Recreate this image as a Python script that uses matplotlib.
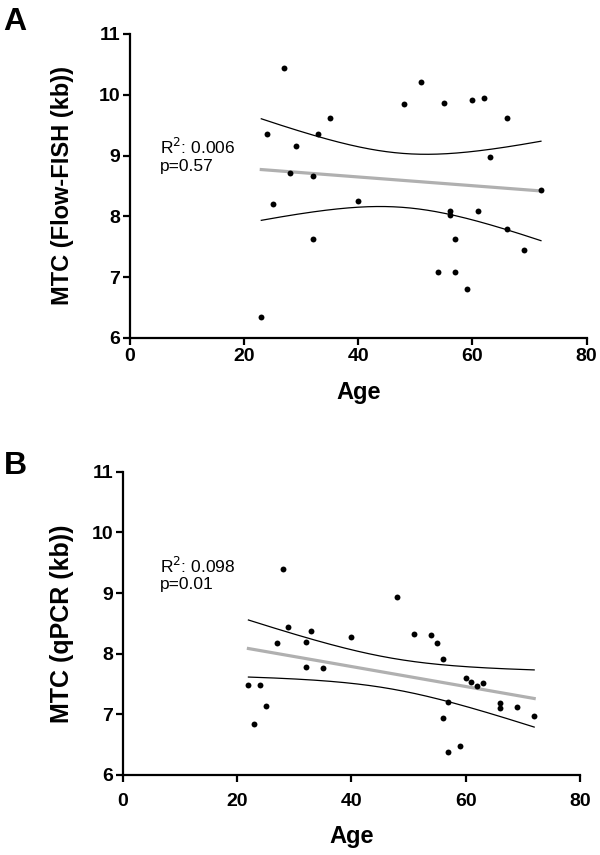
import numpy as np
import matplotlib.pyplot as plt

plt.rcParams['font.family'] = ['Liberation Sans', 'DejaVu Sans']

# Panel A: Flow-FISH
age_a = [23, 24, 25, 27, 28, 29, 32, 32, 33, 35, 40, 48, 51, 54, 55,
         56, 56, 57, 57, 59, 60, 61, 62, 63, 66, 66, 69, 72]
mtc_a = [6.34, 9.36, 8.21, 10.44, 8.71, 9.16, 8.67, 7.62, 9.36, 9.61, 8.25, 9.85, 10.21, 7.09, 9.86,
         8.09, 8.02, 7.62, 7.09, 6.80, 9.91, 8.09, 9.94, 8.97, 9.61, 7.80, 7.45, 8.43]

# Panel B: qPCR
age_b = [22, 23, 24, 25, 27, 28, 29, 32, 32, 33, 35, 40, 48, 51, 54,
         55, 56, 56, 57, 57, 59, 60, 61, 62, 63, 66, 66, 69, 72]
mtc_b = [7.49, 6.84, 7.49, 7.14, 8.18, 9.39, 8.44, 8.19, 7.78, 8.38, 7.77, 8.27, 8.94, 8.32, 8.30,
         8.18, 7.92, 6.94, 7.21, 6.38, 6.47, 7.60, 7.54, 7.47, 7.51, 7.19, 7.10, 7.12, 6.98]

stats_a = "R$^2$: 0.006\np=0.57"
stats_b = "R$^2$: 0.098\np=0.01"

# t quantiles (95%, two sided) for df = n-2
t_crit = {26: 2.056, 27: 2.052}


def fit_ci(x, y):
    x = np.asarray(x, float)
    y = np.asarray(y, float)
    n = len(x)
    b, a = np.polyfit(x, y, 1)
    res = y - (a + b * x)
    s = np.sqrt(np.sum(res ** 2) / (n - 2))
    xs = np.linspace(x.min(), x.max(), 200)
    sxx = np.sum((x - x.mean()) ** 2)
    se = s * np.sqrt(1.0 / n + (xs - x.mean()) ** 2 / sxx)
    yh = a + b * xs
    t = t_crit[n - 2]
    return xs, yh, yh - t * se, yh + t * se


fig = plt.figure(figsize=(6, 8.55), dpi=100)
ax_a = fig.add_axes([0.2167, 0.6047, 0.761, 0.3556])
ax_b = fig.add_axes([0.2045, 0.0936, 0.762, 0.3547])

# ax, x, y, stats, ylabel, ylabel size, text y, text x, ylabel x, tick pad, xlabel pad
panels = [(ax_a, age_a, mtc_a, stats_a, 'MTC (Flow-FISH (kb))', 17, 9.30, 5.2, -0.123, 2, 12),
          (ax_b, age_b, mtc_b, stats_b, 'MTC (qPCR (kb))', 18, 9.62, 6.5, -0.106, 8, 11)]

for ax, x, y, st, ylab, yls, ty, tx, ylx, tpad, xlpad in panels:
    xs, yh, lo, hi = fit_ci(x, y)
    ax.plot(xs, yh, color='#b0b0b0', lw=2.3, zorder=2)
    ax.plot(xs, lo, color='black', lw=0.9, zorder=2)
    ax.plot(xs, hi, color='black', lw=0.9, zorder=2)
    ax.scatter(x, y, s=18, color='black', zorder=3, linewidths=0)
    ax.set_xlim(0, 80)
    ax.set_ylim(6, 11)
    ax.set_xticks([0, 20, 40, 60, 80])
    ax.set_yticks([6, 7, 8, 9, 10, 11])
    for s in ['top', 'right']:
        ax.spines[s].set_visible(False)
    for s in ['left', 'bottom']:
        ax.spines[s].set_linewidth(1.6)
    ax.tick_params(width=1.6, length=5, labelsize=14, pad=2)
    ax.tick_params(axis='x', pad=tpad)
    for lab in ax.get_xticklabels() + ax.get_yticklabels():
        lab.set_fontweight('bold')
    ax.set_xlabel('Age', fontsize=17, fontweight='bold', labelpad=xlpad)
    ax.set_ylabel(ylab, fontsize=yls, fontweight='bold')
    ax.yaxis.set_label_coords(ylx, 0.5)
    ax.text(tx, ty, st, fontsize=12.5, va='top', ha='left', linespacing=1.1)

fig.text(0.006, 0.992, 'A', fontsize=23, fontweight='bold', va='top', ha='left')
fig.text(0.006, 0.472, 'B', fontsize=23, fontweight='bold', va='top', ha='left')

fig.savefig('out.png', dpi=100)
